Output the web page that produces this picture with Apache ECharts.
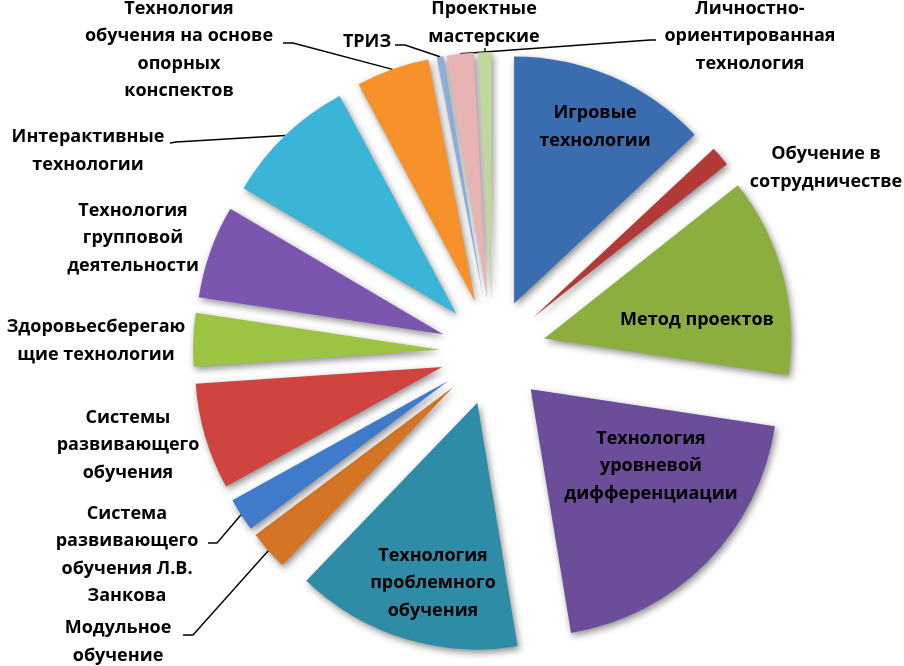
<!DOCTYPE html>
<html><head><meta charset="utf-8">
<script src="https://cdn.jsdelivr.net/npm/echarts@6/dist/echarts.min.js"></script>
<style>html,body{margin:0;padding:0;background:#fff}#c{width:904px;height:666px}</style>
</head><body><div id="c"></div>
<script>
// ---- data ----
const categories = [
  'Игровые технологии', 'Обучение в сотрудничестве', 'Метод проектов',
  'Технология уровневой дифференциации', 'Технология проблемного обучения',
  'Модульное обучение', 'Система развивающего обучения Л.В. Занкова',
  'Системы развивающего обучения', 'Здоровьесберегающие технологии',
  'Технология групповой деятельности', 'Интерактивные технологии',
  'Технология обучения на основе опорных конспектов', 'ТРИЗ',
  'Проектные мастерские', 'Личностно-ориентированная технология'
];
const values = [30, 3, 30, 46, 34, 6, 5, 16, 8, 14, 20, 11, 1, 4, 2];
const labelTexts = [
  'Игровые\nтехнологии', 'Обучение в\nсотрудничестве', 'Метод проектов',
  'Технология\nуровневой\nдифференциации', 'Технология\nпроблемного\nобучения',
  'Модульное\nобучение', 'Система\nразвивающего\nобучения Л.В.\nЗанкова',
  'Системы\nразвивающего\nобучения', 'Здоровьесберегаю\nщие технологии',
  'Технология\nгрупповой\nдеятельности', 'Интерактивные\nтехнологии',
  'Технология\nобучения на основе\nопорных\nконспектов', 'ТРИЗ',
  'Проектные\nмастерские', 'Личностно-\nориентированная\nтехнология'
];

// ---- styling / layout ----
const colors = ['#3A6DB0', '#B23A36', '#8BAE3F', '#6B4D99', '#2E8CA6', '#D47526', '#3F7BCA',
  '#D0443F', '#9DC343', '#7A56AE', '#3AB4D7', '#F7912C', '#90AEDA', '#E8B3B3', '#C0D79C'];
const CX = 493, CY = 352, R = 247, OFF = 53;
const labelPos = [[595,127],[826,168],[697,320],[651,466],[433,583],[118,642],[127,555],[128,445],
  [96,341],[133,238],[88,151],[179,50],[367,42],[484,23],[750,36]];
const leaderTail = {5: [[193,635],[183,635]], 6: [[217,543],[208,543]], 10: [[176,142],[170,143]],
  11: [[293,43],[283,43]], 12: [[405,45],[395,45]], 13: [[650,40],[656,40]], 14: [[485,52],[485,48]]};

const total = values.reduce((a, b) => a + b, 0);
let acc = 0;
const spans = values.map(v => { const s = acc; acc += v; return [s, acc]; });

const series = categories.map((name, i) => {
  const a0 = spans[i][0] / total * 360, a1 = spans[i][1] / total * 360;
  const mid = (a0 + a1) / 2 * Math.PI / 180;
  const cx = CX + OFF * Math.sin(mid), cy = CY - OFF * Math.cos(mid);
  const hasLine = leaderTail[i] !== undefined;
  return {
    type: 'pie',
    name: name,
    center: [cx, cy],
    radius: [0, R],
    startAngle: 90 - a0,
    endAngle: 90 - a1,
    clockwise: true,
    avoidLabelOverlap: false,
    emphasis: { disabled: true },
    itemStyle: {
      color: colors[i],
      shadowBlur: 7, shadowColor: 'rgba(0,0,0,0.45)', shadowOffsetX: 2, shadowOffsetY: 3
    },
    label: {
      show: true, position: 'outside', formatter: labelTexts[i],
      color: '#000', fontFamily: 'Open Sans', fontSize: 18, fontWeight: 'bold',
      lineHeight: 27.5, align: 'center'
    },
    labelLine: { show: hasLine, lineStyle: { color: '#000', width: 1.4 }, length: 10, length2: 10 },
    labelLayout: function () {
      const out = { x: labelPos[i][0], y: labelPos[i][1], align: 'center', verticalAlign: 'middle' };
      if (hasLine) {
        const start = [cx + R * Math.sin(mid), cy - R * Math.cos(mid)];
        out.labelLinePoints = [start].concat(leaderTail[i]);
      }
      return out;
    },
    data: [{ name: name, value: values[i] }]
  };
});

const chart = echarts.init(document.getElementById('c'), null, { renderer: 'canvas' });
chart.setOption({ animation: false, series: series });
</script>
</body></html>
